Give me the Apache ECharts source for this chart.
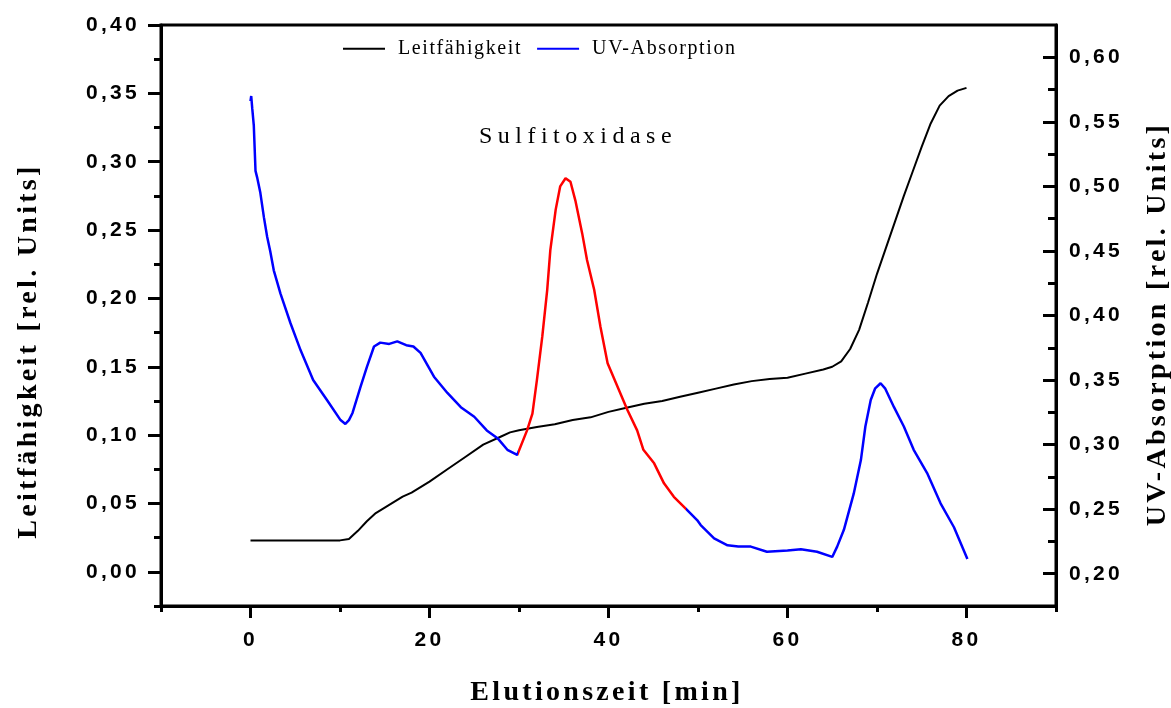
<!DOCTYPE html>
<html>
<head>
<meta charset="utf-8">
<script src="https://cdn.jsdelivr.net/npm/echarts@6/dist/echarts.min.js"></script>
<style>
  html, body { margin: 0; padding: 0; background: #fff; }
  #chart { width: 1171px; height: 708px; }
</style>
</head>
<body>
<div id="chart"></div>
<script>
// Conductivity (left axis) over elution time
const condTime  = [0, 5, 10, 11, 12, 13, 14, 15, 16, 17, 18, 20, 22, 24, 26, 28, 29, 30, 32, 34, 36, 38, 40, 42, 44, 46, 48, 50, 52, 54, 56, 58, 60, 62, 64, 65, 66, 67, 68, 69, 70, 71, 72, 73, 74, 75, 76, 77, 78, 79, 80];
const condValue = [0.023, 0.023, 0.023, 0.024, 0.030, 0.037, 0.043, 0.047, 0.051, 0.055, 0.058, 0.066, 0.075, 0.084, 0.093, 0.099, 0.102, 0.1035, 0.106, 0.108, 0.111, 0.113, 0.117, 0.120, 0.123, 0.125, 0.128, 0.131, 0.134, 0.137, 0.1395, 0.141, 0.142, 0.145, 0.148, 0.150, 0.154, 0.163, 0.177, 0.197, 0.218, 0.237, 0.256, 0.275, 0.293, 0.311, 0.328, 0.341, 0.348, 0.352, 0.354];

// UV absorption (right axis) over elution time
const uvTime  = [0.0, 0.08, 0.2, 0.37, 0.56, 0.74, 1.1, 1.5, 1.86, 2.2, 2.6, 3.35, 4.47, 5.6, 7.0, 8.6, 10.06, 10.6, 11.0, 11.4, 12.3, 13.0, 13.8, 14.5, 15.5, 16.4, 17.4, 18.2, 19.0, 20.5, 22.0, 23.5, 25.0, 26.4, 27.6, 28.7, 29.8,
                 30.9, 31.5, 32.0, 32.6, 33.15, 33.5, 34.1, 34.6, 35.2, 35.75, 36.3, 37.06, 37.6, 38.4, 39.1, 39.9, 41.0, 42.1, 43.2, 43.9, 45.1, 46.2, 47.3, 48.6,
                 49.9, 50.3, 51.8, 53.3, 54.5, 55.9, 57.7, 60.0, 61.5, 63.3, 65.0, 65.55, 66.3, 67.4, 68.2, 68.7, 69.3, 69.8, 70.4, 70.9, 71.9, 73.0, 74.1, 75.6, 77.1, 78.6, 80.1];
const uvValue = [0.566, 0.570, 0.560, 0.547, 0.512, 0.507, 0.495, 0.476, 0.461, 0.450, 0.435, 0.417, 0.394, 0.373, 0.350, 0.334, 0.319, 0.316, 0.319, 0.3245, 0.345, 0.360, 0.376, 0.379, 0.378, 0.380, 0.377, 0.376, 0.371, 0.3526, 0.340, 0.329, 0.3216, 0.311, 0.305, 0.296, 0.292,
                 0.311, 0.324, 0.350, 0.3836, 0.4197, 0.4507, 0.482, 0.500, 0.5063, 0.5036, 0.489, 0.4636, 0.443, 0.420, 0.3913, 0.363, 0.345, 0.327, 0.311, 0.296, 0.2855, 0.270, 0.2596, 0.2506,
                 0.2416, 0.2377, 0.2274, 0.222, 0.221, 0.221, 0.217, 0.218, 0.219, 0.217, 0.213, 0.221, 0.234, 0.262, 0.288, 0.314, 0.3345, 0.3436, 0.3475, 0.3436, 0.329, 0.314, 0.296, 0.278, 0.2545, 0.236, 0.2114];

// Time window of the sulfite oxidase peak (drawn in red)
const peakStart = 29.85;
const peakEnd = 48.7;

// Tick positions
const xMajor = [0, 20, 40, 60, 80];
const xMinor = [-10, 10, 30, 50, 70, 90];
const leftMajor = [0, 0.05, 0.10, 0.15, 0.20, 0.25, 0.30, 0.35, 0.40];
const leftMinor = [-0.025, 0.025, 0.075, 0.125, 0.175, 0.225, 0.275, 0.325, 0.375];
const rightMajor = [0.20, 0.25, 0.30, 0.35, 0.40, 0.45, 0.50, 0.55, 0.60];
const rightMinor = [0.225, 0.275, 0.325, 0.375, 0.425, 0.475, 0.525, 0.575];

// Wide letter spacing for the chart's typography, keyed by font size
(function () {
  const P = CanvasRenderingContext2D.prototype;
  if (!('letterSpacing' in P)) return;
  const spacingBySize = { 21: 3.3, 28: 3.3, 24: 5.5, 20: 1.6 };
  const apply = function (ctx) {
    const m = /(\d+(?:\.\d+)?)px/.exec(ctx.font);
    const s = m ? spacingBySize[Math.round(+m[1])] : 0;
    ctx.letterSpacing = (s || 0) + 'px';
  };
  const fill = P.fillText, stroke = P.strokeText, measure = P.measureText;
  P.fillText = function () { apply(this); return fill.apply(this, arguments); };
  P.strokeText = function () { apply(this); return stroke.apply(this, arguments); };
  P.measureText = function () { apply(this); return measure.apply(this, arguments); };
})();

const condData = condTime.map((t, i) => [t, condValue[i]]);
const uvData = uvTime.map((t, i) => [t, uvValue[i]]);

const tickFont = { color: '#000', fontFamily: 'Liberation Sans', fontWeight: 'bold', fontSize: 21 };
const fmt = v => v.toFixed(2).replace('.', ',');
const axisLine = { show: true, onZero: false, lineStyle: { color: '#000', width: 3 } };
const hiddenLine = { show: false, onZero: false };

const chart = echarts.init(document.getElementById('chart'), null, { renderer: 'canvas' });

chart.setOption({
  animation: false,
  backgroundColor: '#fff',
  grid: { left: 161, right: 115, top: 25, bottom: 102, show: true, borderColor: '#000', borderWidth: 3, backgroundColor: 'transparent' },
  legend: {
    left: 338, top: 33,
    itemWidth: 42, itemHeight: 2, itemGap: 15,
    icon: 'rect',
    textStyle: { fontFamily: 'Liberation Serif', fontSize: 20, color: '#000', padding: [0, 0, 0, 8] },
    data: [
      { name: 'Leitfähigkeit', itemStyle: { color: '#000' } },
      { name: 'UV-Absorption', itemStyle: { color: '#0000ff' } }
    ]
  },
  xAxis: [
    {
      type: 'value', min: -10, max: 90, position: 'bottom',
      axisLine: axisLine,
      splitLine: { show: false },
      axisTick: { show: true, customValues: xMajor, length: 12, lineStyle: { color: '#000', width: 3 } },
      axisLabel: { show: true, customValues: xMajor, margin: 22, ...tickFont, formatter: v => String(v) }
    },
    {
      type: 'value', min: -10, max: 90, position: 'bottom',
      axisLine: hiddenLine,
      splitLine: { show: false },
      axisTick: { show: true, customValues: xMinor, length: 6, lineStyle: { color: '#000', width: 3 } },
      axisLabel: { show: false }
    }
  ],
  yAxis: [
    {
      type: 'value', min: -0.025, max: 0.40, position: 'left',
      axisLine: axisLine,
      splitLine: { show: false },
      axisTick: { show: true, customValues: leftMajor, length: 13, lineStyle: { color: '#000', width: 3 } },
      axisLabel: { show: true, customValues: leftMajor, margin: 21, ...tickFont, formatter: fmt }
    },
    {
      type: 'value', min: 0.175, max: 0.625, position: 'right',
      axisLine: axisLine,
      splitLine: { show: false },
      axisTick: { show: true, inside: true, customValues: rightMajor, length: 13, lineStyle: { color: '#000', width: 3 } },
      axisLabel: { show: true, customValues: rightMajor, margin: 13, ...tickFont, formatter: fmt }
    },
    {
      type: 'value', min: -0.025, max: 0.40, position: 'left',
      axisLine: hiddenLine,
      splitLine: { show: false },
      axisTick: { show: true, customValues: leftMinor, length: 7, lineStyle: { color: '#000', width: 3 } },
      axisLabel: { show: false }
    },
    {
      type: 'value', min: 0.175, max: 0.625, position: 'right',
      axisLine: hiddenLine,
      splitLine: { show: false },
      axisTick: { show: true, inside: true, customValues: rightMinor, length: 8, lineStyle: { color: '#000', width: 3 } },
      axisLabel: { show: false }
    }
  ],
  visualMap: {
    show: false,
    type: 'piecewise',
    seriesIndex: 1,
    dimension: 0,
    pieces: [
      { lt: peakStart, color: '#0000ff' },
      { gte: peakStart, lt: peakEnd, color: '#ff0000' },
      { gte: peakEnd, color: '#0000ff' }
    ]
  },
  series: [
    {
      name: 'Leitfähigkeit', type: 'line', xAxisIndex: 0, yAxisIndex: 0,
      data: condData, showSymbol: false, symbol: 'none',
      lineStyle: { color: '#000', width: 2 }, itemStyle: { color: '#000' }
    },
    {
      name: 'UV-Absorption', type: 'line', xAxisIndex: 0, yAxisIndex: 1,
      data: uvData, showSymbol: false, symbol: 'none',
      lineStyle: { width: 2.5 }, itemStyle: { color: '#0000ff' }
    }
  ],
  graphic: [
    {
      type: 'text', x: 607, y: 693,
      style: { text: 'Elutionszeit [min]', fill: '#000', font: 'bold 28px "Liberation Serif"', align: 'center', verticalAlign: 'middle' }
    },
    {
      type: 'text', x: 29, y: 351, rotation: Math.PI / 2,
      style: { text: 'Leitfähigkeit [rel. Units]', fill: '#000', font: 'bold 28px "Liberation Serif"', align: 'center', verticalAlign: 'middle' }
    },
    {
      type: 'text', x: 1158, y: 324, rotation: Math.PI / 2,
      style: { text: 'UV-Absorption [rel. Units]', fill: '#000', font: 'bold 28px "Liberation Serif"', align: 'center', verticalAlign: 'middle' }
    },
    {
      type: 'text', x: 578, y: 137,
      style: { text: 'Sulfitoxidase', fill: '#000', font: '24px "Liberation Serif"', align: 'center', verticalAlign: 'middle' }
    }
  ]
});
</script>
</body>
</html>
